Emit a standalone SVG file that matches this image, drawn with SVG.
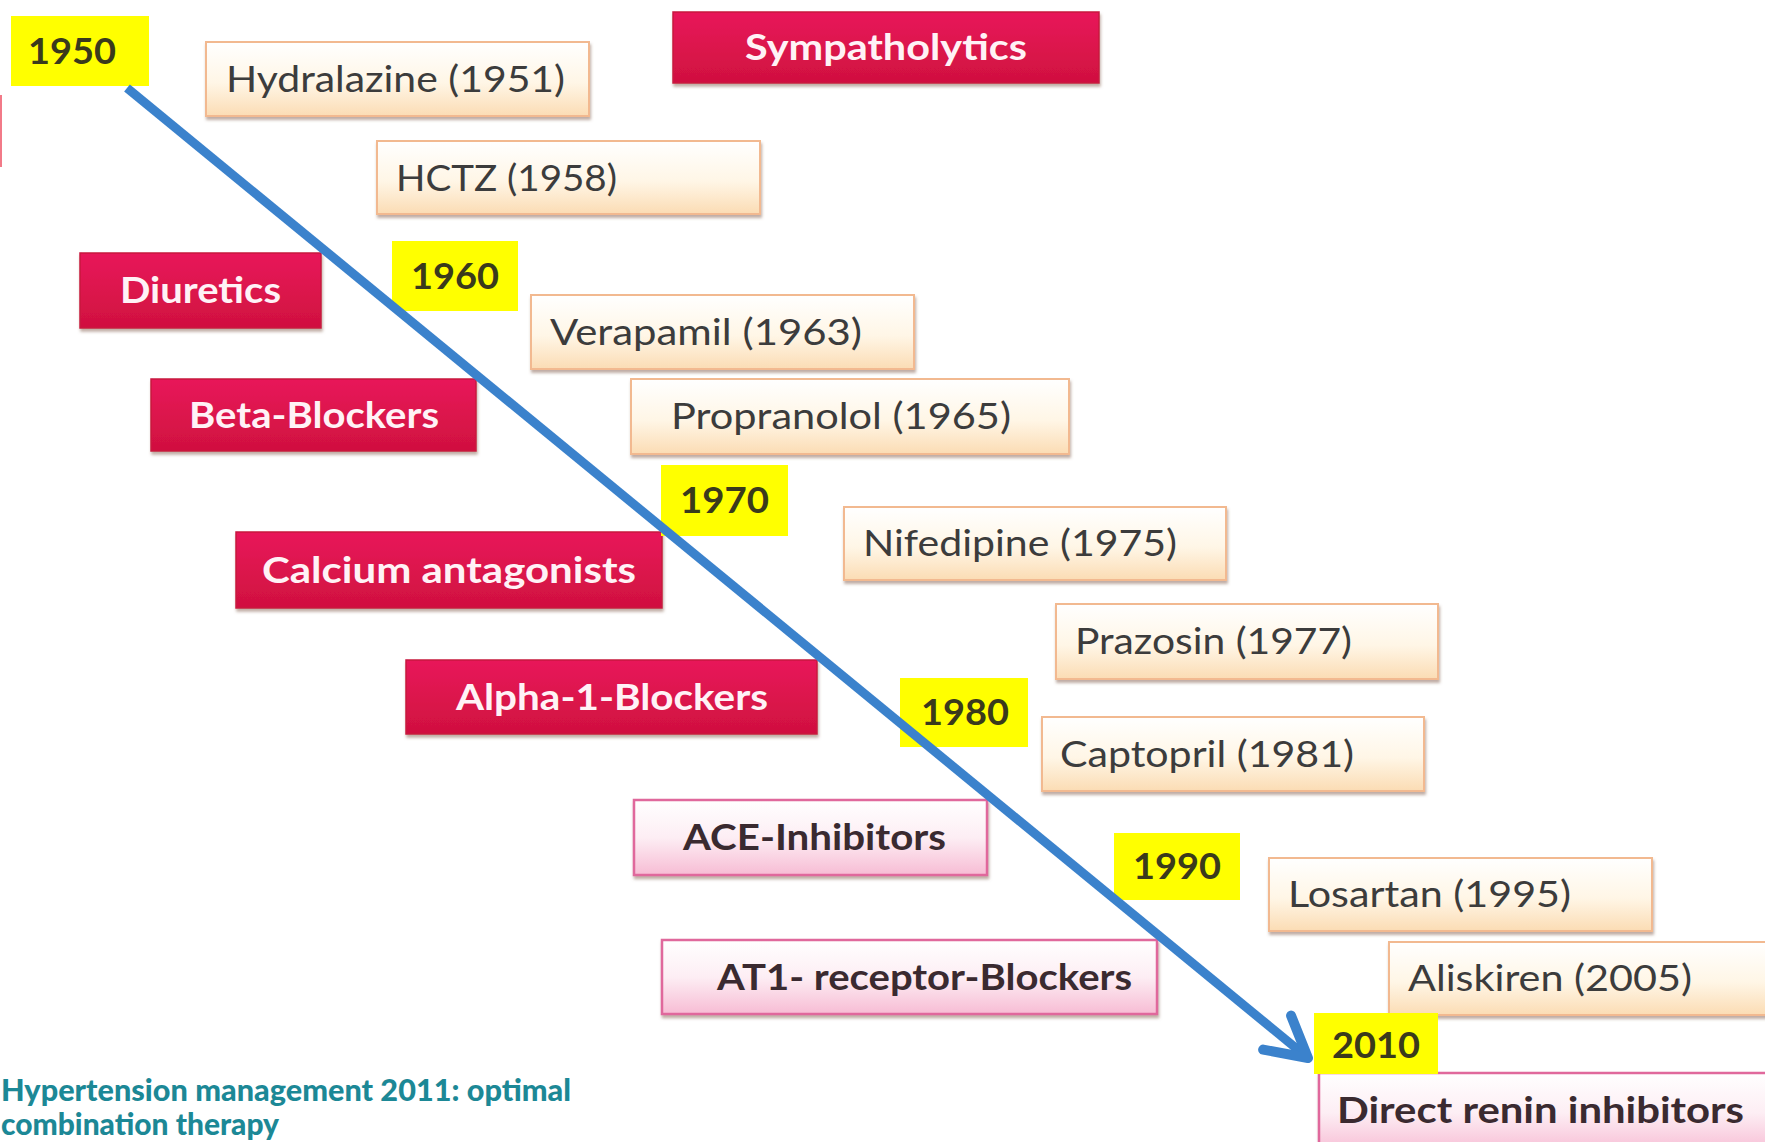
<svg xmlns="http://www.w3.org/2000/svg" width="1765" height="1142" viewBox="0 0 1765 1142">
<defs>
<linearGradient id="gCream" x1="0" y1="0" x2="0" y2="1">
<stop offset="0" stop-color="#ffffff"/><stop offset="0.55" stop-color="#fff6e6"/><stop offset="1" stop-color="#fbdcb4"/>
</linearGradient>
<linearGradient id="gRed" x1="0" y1="0" x2="0" y2="1">
<stop offset="0" stop-color="#e8195a"/><stop offset="1" stop-color="#d0103f"/>
</linearGradient>
<linearGradient id="gPink" x1="0" y1="0" x2="0" y2="1">
<stop offset="0" stop-color="#ffffff"/><stop offset="0.5" stop-color="#fdeef4"/><stop offset="1" stop-color="#f7bcd4"/>
</linearGradient>
<filter id="sh" x="-5%" y="-10%" width="110%" height="130%">
<feDropShadow dx="1" dy="3" stdDeviation="1.5" flood-color="#8a6a5a" flood-opacity="0.55"/>
</filter>
<marker id="head" markerUnits="userSpaceOnUse" markerWidth="60" markerHeight="60" viewBox="-50 -30 60 60" refX="0" refY="0" orient="auto">
<path d="M -40 -22 L 0 0 L -40 22" fill="none" stroke="#3b82cc" stroke-width="10" stroke-linecap="round" stroke-linejoin="round"/>
</marker>
<style>
.year rect{fill:#ffff00}
.year text{font-family:Lato,"Liberation Sans",sans-serif;font-weight:bold;font-size:37px;fill:#3a3a1c}
.drug rect{fill:url(#gCream);stroke:#f2b990;stroke-width:2;filter:url(#sh)}
.drug text{font-family:Lato,"Liberation Sans",sans-serif;font-size:37px;fill:#3c3c3c}
.cls rect{fill:url(#gRed);stroke:#c8143f;stroke-width:1.5;filter:url(#sh)}
.cls text{font-family:Lato,"Liberation Sans",sans-serif;font-weight:bold;font-size:36px;fill:#fff2f6}
.pink rect{fill:url(#gPink);stroke:#e0689c;stroke-width:2.5;filter:url(#sh)}
.pink text{font-family:Lato,"Liberation Sans",sans-serif;font-weight:bold;font-size:36px;fill:#3a2a30}
.cap{font-family:Lato,"Liberation Sans",sans-serif;font-weight:900;font-size:30px;fill:#1c8896}
</style>
</defs>
<rect width="1765" height="1142" fill="#ffffff"/>
<rect x="0" y="95" width="2" height="72" fill="#f27a88"/>

<g id="sympatholytics" class="cls"><rect x="673" y="12" width="426" height="71"/><text x="745" y="60" textLength="282" lengthAdjust="spacingAndGlyphs">Sympatholytics</text></g>
<g id="hydralazine" class="drug"><rect x="206" y="42" width="383" height="74"/><text x="226" y="92" textLength="339" lengthAdjust="spacingAndGlyphs">Hydralazine (1951)</text></g>
<g id="hctz" class="drug"><rect x="377" y="141" width="383" height="73"/><text x="396" y="191" textLength="221" lengthAdjust="spacingAndGlyphs">HCTZ (1958)</text></g>
<g id="diuretics" class="cls"><rect x="80" y="253" width="241" height="75"/><text x="120" y="303" textLength="161" lengthAdjust="spacingAndGlyphs">Diuretics</text></g>
<g id="verapamil" class="drug"><rect x="531" y="295" width="383" height="74"/><text x="550" y="345" textLength="312" lengthAdjust="spacingAndGlyphs">Verapamil (1963)</text></g>
<g id="betablockers" class="cls"><rect x="151" y="379" width="325" height="72"/><text x="189" y="428" textLength="250" lengthAdjust="spacingAndGlyphs">Beta-Blockers</text></g>
<g id="propranolol" class="drug"><rect x="631" y="379" width="438" height="75"/><text x="671" y="429" textLength="340" lengthAdjust="spacingAndGlyphs">Propranolol (1965)</text></g>
<g id="nifedipine" class="drug"><rect x="844" y="507" width="382" height="73"/><text x="863" y="556" textLength="314" lengthAdjust="spacingAndGlyphs">Nifedipine (1975)</text></g>
<g id="calcium" class="cls"><rect x="236" y="532" width="426" height="76"/><text x="262" y="583" textLength="374" lengthAdjust="spacingAndGlyphs">Calcium  antagonists</text></g>
<g id="prazosin" class="drug"><rect x="1056" y="604" width="382" height="75"/><text x="1075" y="654" textLength="277" lengthAdjust="spacingAndGlyphs">Prazosin (1977)</text></g>
<g id="alpha1" class="cls"><rect x="406" y="660" width="411" height="74"/><text x="456" y="710" textLength="312" lengthAdjust="spacingAndGlyphs">Alpha-1-Blockers</text></g>
<g id="captopril" class="drug"><rect x="1042" y="717" width="382" height="74"/><text x="1060" y="767" textLength="294" lengthAdjust="spacingAndGlyphs">Captopril (1981)</text></g>
<g id="ace" class="pink"><rect x="634" y="800" width="353" height="75"/><text x="683" y="850" textLength="263" lengthAdjust="spacingAndGlyphs">ACE-Inhibitors</text></g>
<g id="losartan" class="drug"><rect x="1269" y="858" width="383" height="73"/><text x="1288" y="907" textLength="283" lengthAdjust="spacingAndGlyphs">Losartan (1995)</text></g>
<g id="at1" class="pink"><rect x="662" y="940" width="495" height="74"/><text x="717" y="990" textLength="415" lengthAdjust="spacingAndGlyphs">AT1- receptor-Blockers</text></g>
<g id="aliskiren" class="drug"><rect x="1389" y="942" width="390" height="73"/><text x="1408" y="991" textLength="284" lengthAdjust="spacingAndGlyphs">Aliskiren (2005)</text></g>
<g id="directrenin" class="pink"><rect x="1319" y="1073" width="460" height="80"/><text x="1337" y="1123" textLength="407" lengthAdjust="spacingAndGlyphs">Direct renin inhibitors</text></g>

<g id="y1950" class="year"><rect x="11" y="16" width="138" height="70"/><text x="28" y="64" textLength="88" lengthAdjust="spacingAndGlyphs">1950</text></g>
<g id="y1960" class="year"><rect x="392" y="241" width="126" height="70"/><text x="411" y="289" textLength="88" lengthAdjust="spacingAndGlyphs">1960</text></g>
<g id="y1970" class="year"><rect x="661" y="465" width="127" height="71"/><text x="680" y="513" textLength="89" lengthAdjust="spacingAndGlyphs">1970</text></g>
<g id="y1980" class="year"><rect x="900" y="678" width="128" height="69"/><text x="921" y="725" textLength="88" lengthAdjust="spacingAndGlyphs">1980</text></g>
<g id="y1990" class="year"><rect x="1114" y="833" width="126" height="67"/><text x="1133" y="879" textLength="88" lengthAdjust="spacingAndGlyphs">1990</text></g>
<g id="y2010" class="year"><rect x="1314" y="1013" width="124" height="61"/><text x="1332" y="1058" textLength="88" lengthAdjust="spacingAndGlyphs">2010</text></g>

<g id="connectors">
<line x1="127" y1="88" x2="1308" y2="1058" stroke="#3b82cc" stroke-width="9" marker-end="url(#head)"/>
</g>

<g id="caption">
<text class="cap" x="1" y="1101" textLength="570" lengthAdjust="spacingAndGlyphs">Hypertension management 2011: optimal</text>
<text class="cap" x="1" y="1135" textLength="278" lengthAdjust="spacingAndGlyphs">combination therapy</text>
</g>
</svg>
